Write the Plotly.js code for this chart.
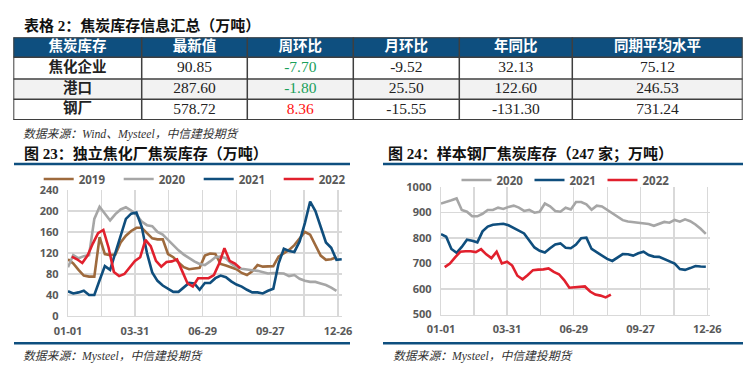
<!DOCTYPE html>
<html><head><meta charset="utf-8">
<script src="https://cdn.plot.ly/plotly-3.0.1.min.js"></script>
<style>html,body{margin:0;padding:0;background:#fff;}#chart{width:753px;height:379px;}</style>
</head><body><div id="chart"></div>
<script>
// ---------- table data ----------
const tableHeader = ['焦炭库存','最新值','周环比','月环比','年同比','同期平均水平'];
const tableRows = ['焦化企业','港口','钢厂'];
const latestVal = [90.85, 287.60, 578.72];
const weekChg = [-7.70, -1.80, 8.36];
const monthChg = [-9.52, 25.50, -15.55];
const yoyChg = [32.13, 122.60, -131.30];
const avgLevel = [75.12, 246.53, 731.24];

// ---------- chart 23: 独立焦化厂焦炭库存 (weekly) ----------
const cokeYears = ['2019','2020','2021','2022'];
const coke2019 = [108,100,88,77,75,75,150,118,116,117,140,153,162,168,168,158,148,146,146,118,112,102,93,89,91,92,115,119,118,99,96,93,89,82,78,85,97,94,95,95,113,120,126,135,148,160,155,135,115,107,108,112];
const coke2020 = [93,116,110,114,116,185,208,196,182,194,203,207,201,193,180,173,171,160,155,145,135,125,117,110,104,99,97,104,112,113,110,100,93,90,88,87,86,84,81,82,82,81,76,78,71,67,65,65,62,59,54,48];
const coke2021 = [47,43,45,48,40,40,68,95,88,120,150,185,195,197,170,120,83,67,58,52,46,46,55,63,62,50,63,63,72,77,74,66,60,56,50,45,45,43,48,52,100,128,124,122,142,177,218,200,170,140,130,107,108];
const coke2022 = [113,108,101,115,138,158,164,130,84,76,80,92,105,112,145,133,105,94,103,104,108,85,62,56,72,72,72,78,100,129,105,100,91];

// ---------- chart 24: 样本钢厂焦炭库存 (weekly) ----------
const steelYears = ['2020','2021','2022'];
const steel2020 = [935,940,948,955,910,903,885,885,895,910,910,919,914,922,927,919,906,910,899,903,935,924,906,903,919,912,941,941,932,911,927,924,910,897,884,870,865,862,859,857,855,848,857,863,860,871,864,873,866,853,836,816];
const steel2021 = [815,805,757,742,765,793,789,783,826,845,852,853,856,850,840,830,818,790,763,750,743,760,775,779,762,760,774,799,801,757,744,730,718,710,722,737,736,731,740,746,733,727,726,718,711,700,678,675,682,690,688,687];
const steel2022 = [686,700,724,746,748,748,745,756,736,721,746,700,707,692,652,638,655,674,676,677,681,667,658,635,605,606,607,610,590,578,574,567,578];

// x-axis (day offset from 01-01)
const tickDays = [0,44.5,89,134,179,224,269,314,359];
const tickLabels = ['01-01','','03-31','','06-29','','09-27','','12-26'];

const colors = {'2019':'#9E6A3D','2020':'#A6A6A6','2021':'#0F4E7D','2022':'#E1202D'};
const weekDays = (arr, start) => arr.map((_, i) => start + 7 * i);

const W = 753, H = 379;
const px = v => v / W, py = v => 1 - v / H;
const fmt = a => a.map(v => v.toFixed(2));

const serifCJK = "'Liberation Serif','Noto Sans CJK SC'";
const dark = '#222222';
const blue = '#0E4F7F';

// ---------- table geometry (table axis units = pixels) ----------
const colW = [128.4, 105.6, 106, 106, 113, 170.4];
const rowH = [20, 21.7, 20.3, 20.7];
const colEdges = colW.reduce((a, w) => a.concat(a[a.length - 1] + w), [0]);
const rowEdges = rowH.reduce((a, h) => a.concat(a[a.length - 1] + h), [0]);
const colMid = colW.map((w, i) => colEdges[i] + w / 2);
const rowMid = rowH.map((h, i) => rowEdges[i] + h / 2);
const tblW = colEdges[colEdges.length - 1], tblH = rowEdges[rowEdges.length - 1];

const traces = [];
// header text
traces.push({type: 'scatter', mode: 'text', xaxis: 'x3', yaxis: 'y3', showlegend: false, hoverinfo: 'skip',
  x: colMid, y: colMid.map(() => rowMid[0]), text: tableHeader.map(h => '<b>' + h + '</b>'),
  textposition: 'middle center', textfont: {family: 'Noto Sans CJK SC', size: 14.5, color: '#ffffff'}});
// body columns
const bodyCols = [tableRows.map(r => '<b>' + r + '</b>'), fmt(latestVal), fmt(weekChg), fmt(monthChg), fmt(yoyChg), fmt(avgLevel)];
bodyCols.forEach((col, ci) => {
  let color = dark;
  if (ci === 2) color = weekChg.map(v => v < 0 ? '#1AA05A' : '#FF1010');
  traces.push({type: 'scatter', mode: 'text', xaxis: 'x3', yaxis: 'y3', showlegend: false, hoverinfo: 'skip',
    x: col.map(() => colMid[ci]), y: col.map((_, ri) => rowMid[ri + 1]), text: col,
    textposition: 'middle center',
    textfont: {family: ci === 0 ? 'Noto Sans CJK SC' : 'Liberation Serif', size: ci === 0 ? 14.5 : 15.5, color: color}});
});

const cokeData = {'2019': [coke2019, 0], '2020': [coke2020, 0], '2021': [coke2021, 0], '2022': [coke2022, 5]};
cokeYears.forEach(y => {
  const [vals, start] = cokeData[y];
  traces.push({type: 'scatter', mode: 'lines', name: y, x: weekDays(vals, start), y: vals,
    xaxis: 'x', yaxis: 'y', legend: 'legend',
    line: {color: colors[y], width: 2.6}, hoverinfo: 'skip'});
});
const steelData = {'2020': [steel2020, 0], '2021': [steel2021, 0], '2022': [steel2022, 5]};
steelYears.forEach(y => {
  const [vals, start] = steelData[y];
  traces.push({type: 'scatter', mode: 'lines', name: y, x: weekDays(vals, start), y: vals,
    xaxis: 'x2', yaxis: 'y2', legend: 'legend2',
    line: {color: colors[y], width: 2.6}, hoverinfo: 'skip'});
});

const tickFont = {family: 'Open Sans', size: 11, color: '#595959', weight: 'bold'};
const gridC = '#D9D9D9';
const xBase = {tickvals: tickDays, ticktext: tickLabels, showgrid: true, gridcolor: gridC, gridwidth: 1.3,
  zeroline: false, showline: true, linecolor: gridC, linewidth: 1.3, ticks: 'outside', ticklen: 4,
  tickcolor: 'rgba(0,0,0,0)', tickfont: tickFont, fixedrange: true};
const yBase = {showgrid: true, gridcolor: gridC, gridwidth: 1.3, zeroline: false, showline: true,
  linecolor: gridC, linewidth: 1.3, ticks: 'outside', ticklen: 6, tickcolor: 'rgba(0,0,0,0)',
  tickfont: tickFont, fixedrange: true};

const legendBase = {orientation: 'h', xanchor: 'left', yanchor: 'middle', bgcolor: 'rgba(0,0,0,0)',
  font: {family: 'Open Sans', size: 11.5, color: '#595959', weight: 'bold'}, itemclick: false, itemdoubleclick: false};

// table shapes (fills + grid)
const tblShapes = [];
tblShapes.push({type: 'rect', xref: 'x3', yref: 'y3', x0: 0, x1: tblW, y0: rowEdges[0], y1: rowEdges[1], fillcolor: blue, line: {width: 0}, layer: 'below'});
tblShapes.push({type: 'rect', xref: 'x3', yref: 'y3', x0: 0, x1: tblW, y0: rowEdges[2], y1: rowEdges[3], fillcolor: '#F2F2F2', line: {width: 0}, layer: 'below'});
rowEdges.forEach((ry, i) => tblShapes.push({type: 'line', xref: 'x3', yref: 'y3', x0: 0, x1: tblW, y0: ry, y1: ry,
  line: {color: '#3F3F3F', width: (i === 0 || i === rowEdges.length - 1) ? 2 : 1.5}}));
colEdges.forEach((cx, i) => tblShapes.push({type: 'line', xref: 'x3', yref: 'y3', x0: cx, x1: cx, y0: 0, y1: tblH,
  line: {color: '#3F3F3F', width: (i === 0 || i === colEdges.length - 1) ? 2 : 1.5}}));

const layout = {
  width: W, height: H, margin: {l: 0, r: 0, t: 0, b: 0},
  paper_bgcolor: '#ffffff', plot_bgcolor: 'rgba(0,0,0,0)',
  font: {family: 'Open Sans', color: '#595959'},
  showlegend: true,
  xaxis: Object.assign({}, xBase, {domain: [px(68), px(68 + 365 * 0.752)], range: [0, 365], anchor: 'y'}),
  yaxis: Object.assign({}, yBase, {domain: [py(316), py(190)], range: [0, 240], tickvals: [0,40,80,120,160,200,240], anchor: 'x'}),
  xaxis2: Object.assign({}, xBase, {domain: [px(441), px(441 + 362 * 0.7418)], range: [0, 362], anchor: 'y2'}),
  yaxis2: Object.assign({}, yBase, {domain: [py(314.5), py(187)], range: [500, 1000], tickvals: [500,600,700,800,900,1000], anchor: 'x2'}),
  xaxis3: {domain: [px(13.3), px(13.3 + tblW)], range: [0, tblW], visible: false, fixedrange: true, anchor: 'y3'},
  yaxis3: {domain: [py(37.3 + tblH), py(37.3)], range: [tblH, 0], visible: false, fixedrange: true, anchor: 'x3'},
  legend: Object.assign({}, legendBase, {x: px(38.7), y: py(179), entrywidth: 35}),
  legend2: Object.assign({}, legendBase, {x: px(456.5), y: py(180), entrywidth: 28}),
  annotations: [
    {text: '<b>表格 2：焦炭库存信息汇总（万吨）</b>', x: px(22), y: py(25), xref: 'paper', yref: 'paper', xanchor: 'left', yanchor: 'middle', showarrow: false, font: {family: serifCJK, size: 15, color: '#111'}},
    {text: '<i>数据来源：Wind、Mysteel，中信建投期货</i>', x: px(21), y: py(134), xref: 'paper', yref: 'paper', xanchor: 'left', yanchor: 'middle', showarrow: false, font: {family: serifCJK, size: 11.8, color: '#333'}},
    {text: '<b>图 23：独立焦化厂焦炭库存（万吨）</b>', x: px(22), y: py(153), xref: 'paper', yref: 'paper', xanchor: 'left', yanchor: 'middle', showarrow: false, font: {family: serifCJK, size: 15, color: '#111'}},
    {text: '<b>图 24：样本钢厂焦炭库存（247 家；万吨）</b>', x: px(386), y: py(153.5), xref: 'paper', yref: 'paper', xanchor: 'left', yanchor: 'middle', showarrow: false, font: {family: serifCJK, size: 15, color: '#111'}},
    {text: '<i>数据来源：Mysteel，中信建投期货</i>', x: px(21), y: py(356), xref: 'paper', yref: 'paper', xanchor: 'left', yanchor: 'middle', showarrow: false, font: {family: serifCJK, size: 11.8, color: '#333'}},
    {text: '<i>数据来源：Mysteel，中信建投期货</i>', x: px(391), y: py(356), xref: 'paper', yref: 'paper', xanchor: 'left', yanchor: 'middle', showarrow: false, font: {family: serifCJK, size: 11.8, color: '#333'}}
  ],
  shapes: tblShapes.concat([
    {type: 'line', xref: 'paper', yref: 'paper', x0: px(14), x1: px(350), y0: py(164), y1: py(164), line: {color: blue, width: 2.5}},
    {type: 'line', xref: 'paper', yref: 'paper', x0: px(383), x1: px(743), y0: py(164), y1: py(164), line: {color: blue, width: 2.5}},
    {type: 'line', xref: 'paper', yref: 'paper', x0: px(14), x1: px(350), y0: py(343.3), y1: py(343.3), line: {color: blue, width: 2.5}},
    {type: 'line', xref: 'paper', yref: 'paper', x0: px(383), x1: px(743), y0: py(343.3), y1: py(343.3), line: {color: blue, width: 2.5}}
  ])
};

Plotly.newPlot('chart', traces, layout, {displayModeBar: false, staticPlot: true});
</script>
</body></html>
